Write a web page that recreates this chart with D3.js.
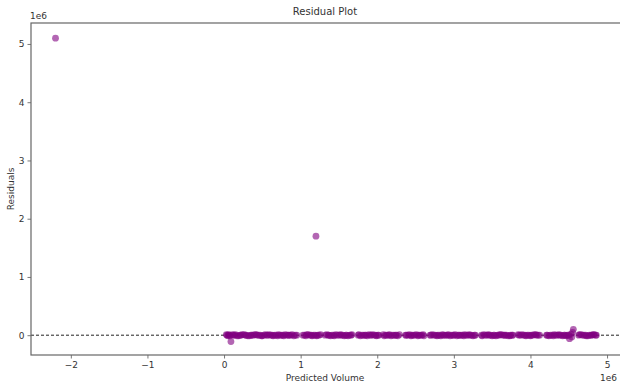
<!DOCTYPE html>
<html>
<head>
<meta charset="utf-8">
<script src="https://cdn.jsdelivr.net/npm/d3@7/dist/d3.min.js"></script>
<style>
  html, body { margin: 0; padding: 0; background: #fff; }
  svg { display: block; overflow: hidden; }
  text { font-family: "DejaVu Sans", sans-serif; fill: #333; }
</style>
</head>
<body>
<svg id="chart" width="620" height="385"></svg>
<script>
// ---- data (units of 1e6) ----
const outlierPredicted = [-2.2, 1.2];
const outlierResidual  = [5.1, 1.7];

const bandPredicted = [
  0.03,0.05,0.07,0.09,0.11,0.14,0.17,0.21,0.24,0.28,0.31,0.35,0.38,0.42,0.45,0.49,0.52,0.56,0.59,0.63,
  0.66,0.70,0.73,0.77,0.80,0.84,0.87,0.91,0.95,
  1.05,1.08,1.12,1.15,1.19,1.22,1.26,
  1.32,1.36,1.39,1.43,1.46,1.50,1.53,1.57,1.60,1.64,1.67,
  1.75,1.78,1.82,1.85,1.89,1.92,1.96,1.99,2.02,
  2.08,2.11,2.15,2.18,2.22,2.25,2.29,
  2.37,2.40,2.44,2.47,2.51,2.54,2.58,2.61,
  2.69,2.72,2.76,2.79,2.83,2.86,2.90,2.93,2.97,3.00,3.04,3.07,3.11,3.14,3.18,3.21,3.25,3.28,
  3.36,3.39,3.43,3.46,3.50,3.53,3.57,3.60,3.64,3.67,3.71,3.74,3.77,
  3.84,3.87,3.91,3.94,3.98,4.01,4.05,4.08,4.12,
  4.21,4.24,4.28,4.31,4.35,4.38,4.42,4.45,4.48,4.51,4.53,4.55,4.56,
  4.63,4.66,4.70,4.73,4.77,4.80,4.83,4.86
];
const bandResidual = [
  0.01,-0.01,0.00,-0.11,0.01,0.00,-0.01,0.00,0.01,0.00,-0.01,0.00,0.00,0.01,0.00,-0.01,0.00,0.00,0.01,0.00,
  0.00,-0.01,0.00,0.00,0.01,0.00,0.00,-0.01,0.00,
  0.00,0.01,0.00,-0.01,0.00,0.00,0.01,
  0.00,0.00,-0.01,0.00,0.01,0.00,0.00,-0.01,0.00,0.00,0.01,
  0.00,-0.01,0.00,0.00,0.01,0.00,0.00,-0.01,0.00,
  0.01,0.00,0.00,-0.01,0.00,0.00,0.01,
  0.00,0.00,-0.01,0.00,0.01,0.00,0.00,-0.01,
  0.00,0.01,0.00,0.00,-0.01,0.00,0.00,0.01,0.00,0.00,-0.01,0.00,0.00,0.01,0.00,0.00,-0.01,0.00,
  0.00,0.01,0.00,0.00,-0.01,0.00,0.00,0.01,0.00,0.00,-0.01,0.00,0.00,
  0.01,0.00,0.00,-0.01,0.00,0.00,0.01,0.00,0.00,
  0.00,-0.01,0.00,0.01,0.00,0.00,-0.01,0.00,0.00,-0.06,0.02,0.05,0.10,
  0.00,0.01,0.00,-0.01,0.00,0.00,0.01,0.00
];

// additional dense points along the band
const bandPredicted2 = [
  0.04,0.06,0.08,0.12,0.15,0.19,0.22,0.26,0.29,0.33,0.36,0.40,0.43,0.47,0.50,0.54,0.57,0.61,0.64,0.68,
  0.71,0.75,0.78,0.82,0.85,0.89,0.93,
  1.03,1.07,1.10,1.14,1.17,1.21,1.24,
  1.34,1.37,1.41,1.44,1.48,1.52,1.55,1.59,1.62,1.66,
  1.76,1.80,1.84,1.87,1.91,1.94,1.98,2.01,
  2.09,2.13,2.16,2.20,2.24,2.27,
  2.38,2.42,2.45,2.49,2.53,2.56,2.60,
  2.70,2.74,2.78,2.81,2.85,2.88,2.92,2.95,2.99,3.02,3.06,3.09,3.13,3.16,3.20,3.23,3.27,
  3.37,3.41,3.45,3.48,3.52,3.55,3.59,3.62,3.66,3.69,3.73,3.76,
  3.85,3.89,3.93,3.96,4.00,4.03,4.07,4.10,
  4.22,4.26,4.30,4.33,4.37,4.40,4.44,4.47,4.50,4.54,
  4.64,4.68,4.72,4.75,4.79,4.82,4.85
];
const bandResidual2 = [
  0.00,0.01,-0.01,0.00,0.01,-0.01,0.00,0.01,0.00,-0.01,0.00,0.01,0.00,0.00,-0.01,0.01,0.00,0.00,-0.01,0.00,
  0.01,0.00,-0.01,0.00,0.00,0.01,0.00,
  0.00,-0.01,0.01,0.00,0.00,-0.01,0.00,
  0.01,0.00,0.00,-0.01,0.00,0.01,0.00,0.00,-0.01,0.00,
  0.01,0.00,0.00,-0.01,0.00,0.01,0.00,0.00,
  -0.01,0.00,0.01,0.00,0.00,-0.01,
  0.00,0.01,0.00,0.00,-0.01,0.00,0.01,
  0.00,0.00,-0.01,0.00,0.01,0.00,0.00,-0.01,0.00,0.01,0.00,0.00,-0.01,0.00,0.01,0.00,0.00,
  -0.01,0.00,0.01,0.00,0.00,-0.01,0.00,0.01,0.00,0.00,-0.01,0.00,
  0.00,0.01,0.00,0.00,-0.01,0.00,0.01,0.00,
  0.00,0.00,-0.01,0.00,0.01,0.00,0.00,-0.01,0.00,-0.03,
  0.01,0.00,0.00,-0.01,0.00,0.01,0.00
];

const xTicks = [-2, -1, 0, 1, 2, 3, 4, 5];
const yTicks = [0, 1, 2, 3, 4, 5];
const titleText = "Residual Plot";
const xLabelText = "Predicted Volume";
const yLabelText = "Residuals";
const offsetText = "1e6";

// ---- layout ----
const svg = d3.select("#chart");
const plot = { left: 31, right: 640, top: 23, bottom: 355 };

const x = d3.scaleLinear().domain([-2.52, 5.43]).range([plot.left, plot.right]);
const y = d3.scaleLinear().domain([-0.34, 5.36]).range([plot.bottom, plot.top]);

const fmt = d => d < 0 ? "\u2212" + Math.abs(d) : String(d);

// zero line
svg.append("line")
  .attr("x1", plot.left).attr("x2", plot.right)
  .attr("y1", y(0)).attr("y2", y(0))
  .attr("stroke", "#222").attr("stroke-width", 1)
  .attr("stroke-dasharray", "3,2");

// points
const points = outlierPredicted.map((p, i) => [p, outlierResidual[i]])
  .concat(bandPredicted.map((p, i) => [p, bandResidual[i]]))
  .concat(bandPredicted2.map((p, i) => [p, bandResidual2[i]]));

svg.append("g").selectAll("circle")
  .data(points)
  .enter().append("circle")
  .attr("cx", d => x(d[0]))
  .attr("cy", d => y(d[1]))
  .attr("r", 3.4)
  .attr("fill", "purple")
  .attr("fill-opacity", 0.6);

// axes
const xAxis = svg.append("g")
  .attr("transform", `translate(0,${plot.bottom})`)
  .call(d3.axisBottom(x).tickValues(xTicks).tickFormat(fmt).tickSize(3.5).tickPadding(3));
const yAxis = svg.append("g")
  .attr("transform", `translate(${plot.left},0)`)
  .call(d3.axisLeft(y).tickValues(yTicks).tickFormat(fmt).tickSize(3.5).tickPadding(3));

[xAxis, yAxis].forEach(g => {
  g.select(".domain").remove();
  g.selectAll(".tick line").attr("stroke", "#555").attr("stroke-width", 0.8);
  g.selectAll(".tick text").attr("font-family", "DejaVu Sans, sans-serif")
    .attr("font-size", 9).attr("fill", "#333");
});

// frame
svg.append("rect")
  .attr("x", plot.left).attr("y", plot.top)
  .attr("width", plot.right - plot.left).attr("height", plot.bottom - plot.top)
  .attr("fill", "none").attr("stroke", "#666").attr("stroke-width", 1.2);

// title & labels
svg.append("text").attr("x", 325).attr("y", 15).attr("text-anchor", "middle")
  .attr("font-size", 10).text(titleText);
svg.append("text").attr("x", 325).attr("y", 381).attr("text-anchor", "middle")
  .attr("font-size", 9).text(xLabelText);
svg.append("text").attr("transform", `translate(14,${(plot.top + plot.bottom) / 2}) rotate(-90)`)
  .attr("text-anchor", "middle").attr("font-size", 9).text(yLabelText);
svg.append("text").attr("x", 30).attr("y", 19).attr("font-size", 9).text(offsetText);
svg.append("text").attr("x", 617).attr("y", 381).attr("text-anchor", "end")
  .attr("font-size", 9).text(offsetText);
</script>
</body>
</html>
